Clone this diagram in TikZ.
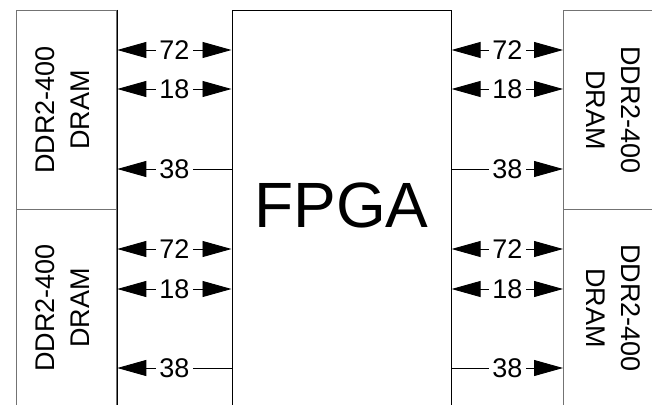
\documentclass[tikz,border=0pt]{standalone}
\usepackage{fontspec}
\setmainfont{Liberation Sans}
\usetikzlibrary{arrows.meta}
\begin{document}
\begin{tikzpicture}[x=1pt,y=-1pt,
  box/.style={draw=black!55, line width=1.3pt, rectangle, inner sep=0pt, anchor=north west},
  chip/.style={draw=black, line width=1.1pt, rectangle, inner sep=0pt, anchor=north west},
  edge/.style={draw=black, line width=1.1pt},
  bus/.style={line width=0.9pt},
  tipa/.style={-{Triangle[length=29pt,width=16pt]}},
  tipb/.style={{Triangle[length=29pt,width=16pt]}-{Triangle[length=29pt,width=16pt]}},
  tipc/.style={{Triangle[length=29pt,width=16pt]}-},
  lbl/.style={fill=white, inner sep=3.5pt, font=\fontsize{27}{32}\selectfont},
  memtext/.style={align=center, inner sep=0pt, font=\fontsize{27}{35}\selectfont}
]
\clip (0,0) rectangle (652,404);
\fill[white] (0,0) rectangle (652,404);

% memory boxes
\node[box, minimum width=100pt, minimum height=199pt] (d1) at (16,10) {};
\node[box, minimum width=100pt, minimum height=230pt] (d2) at (16,209) {};
\node[box, minimum width=120pt, minimum height=199pt] (d3) at (563,10) {};
\node[box, minimum width=120pt, minimum height=230pt] (d4) at (563,209) {};
\draw[edge] (d1.north east) -- (d2.south east);

% FPGA
\node[chip, minimum width=219pt, minimum height=430pt] (fpga) at (231.5,10) {};
\node[inner sep=0pt, font=\fontsize{64}{70}\selectfont] (ftxt) at (341.5,205.5) {FPGA};

% memory labels
\node[memtext, rotate=90] (t1) at (62.5,110) {DDR2-400\\DRAM};
\node[memtext, rotate=90] (t2) at (62.5,308) {DDR2-400\\DRAM};
\node[memtext, rotate=-90] (t3) at (613.5,110) {DDR2-400\\DRAM};
\node[memtext, rotate=-90] (t4) at (613.5,308) {DDR2-400\\DRAM};

% left buses, top
\draw[bus, tipb] (d1.east |- 0,50) -- node[lbl] (l1) {72} (fpga.west |- 0,50);
\draw[bus, tipb] (d1.east |- 0,89) -- node[lbl] (l2) {18} (fpga.west |- 0,89);
\draw[bus, tipc] (d1.east |- 0,169) -- node[lbl] (l3) {38} (fpga.west |- 0,169);
% left buses, bottom
\draw[bus, tipb] (d2.east |- 0,249) -- node[lbl] (l4) {72} (fpga.west |- 0,249);
\draw[bus, tipb] (d2.east |- 0,289) -- node[lbl] (l5) {18} (fpga.west |- 0,289);
\draw[bus, tipc] (d2.east |- 0,368) -- node[lbl] (l6) {38} (fpga.west |- 0,368);
% right buses, top
\draw[bus, tipb] (fpga.east |- 0,50) -- node[lbl] (r1) {72} (d3.west |- 0,50);
\draw[bus, tipb] (fpga.east |- 0,89) -- node[lbl] (r2) {18} (d3.west |- 0,89);
\draw[bus, tipa] (fpga.east |- 0,169) -- node[lbl] (r3) {38} (d3.west |- 0,169);
% right buses, bottom
\draw[bus, tipb] (fpga.east |- 0,249) -- node[lbl] (r4) {72} (d4.west |- 0,249);
\draw[bus, tipb] (fpga.east |- 0,289) -- node[lbl] (r5) {18} (d4.west |- 0,289);
\draw[bus, tipa] (fpga.east |- 0,368) -- node[lbl] (r6) {38} (d4.west |- 0,368);
\end{tikzpicture}
\end{document}
